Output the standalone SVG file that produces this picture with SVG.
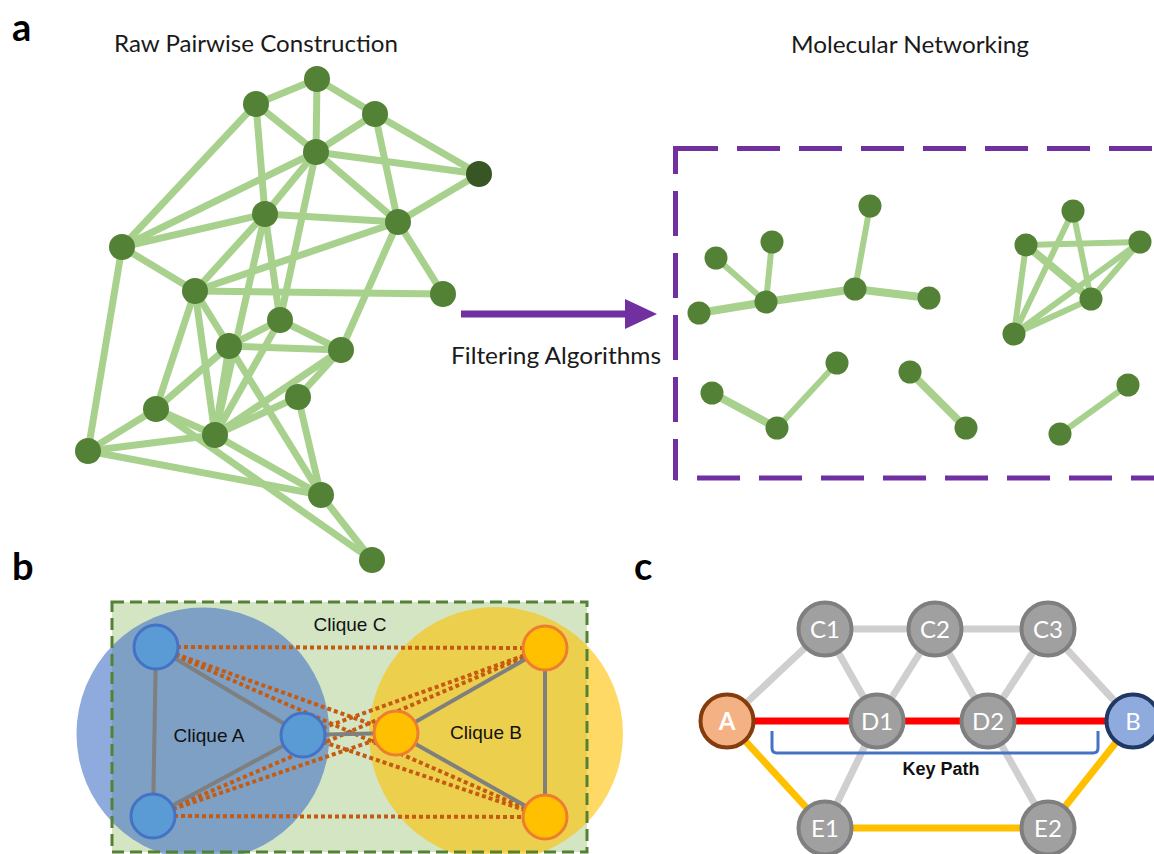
<svg xmlns="http://www.w3.org/2000/svg" width="1154" height="854" viewBox="0 0 1154 854">
  <style>
    .ttl { font-family: Lato, "Liberation Sans", sans-serif; font-size: 24px; fill: #1a1a1a; }
    .lbl { font-family: Lato, "Liberation Sans", sans-serif; font-weight: bold; font-size: 38px; fill: #000; }
    .ea { stroke: #a9d18e; stroke-width: 7; stroke-linecap: round; }
    .eb { stroke: #a9d18e; stroke-width: 6; stroke-linecap: round; }
    .ebt { stroke: #a9d18e; stroke-width: 8; stroke-linecap: round; }
    .na { fill: #538135; }
    .nd { fill: #375623; }
    .box { stroke: #7030a0; stroke-width: 5; fill: none; }
    .g2 { stroke: #7f7f7f; stroke-width: 4; }
    .dot { stroke: #c55a11; stroke-width: 4; stroke-dasharray: 4 3; fill: none; }
    .ba { fill: #5b9bd5; stroke: #4472c4; stroke-width: 3; }
    .bb { fill: #ffc000; stroke: #ed7d31; stroke-width: 3; }
    .cq { font-family: "Liberation Sans", Arial, sans-serif; font-size: 19px; fill: #111; text-anchor: middle; }
    .lg { stroke: #d0cece; stroke-width: 7; }
    .red { stroke: #ff0000; stroke-width: 7; }
    .yel { stroke: #ffc000; stroke-width: 7; }
    .gn { fill: #a0a0a0; stroke: #7f7f7f; stroke-width: 4; }
    .nt { font-family: Lato, "Liberation Sans", sans-serif; font-size: 24px; fill: #fff; text-anchor: middle; }
  </style>
  <rect width="1154" height="854" fill="#fff"/>

  <!-- panel labels and titles -->
  <text class="lbl" x="12" y="41">a</text>
  <text class="lbl" x="12" y="580">b</text>
  <text class="lbl" x="634" y="580">c</text>
  <text class="ttl" x="114" y="52" textLength="284" lengthAdjust="spacingAndGlyphs">Raw Pairwise Construction</text>
  <text class="ttl" x="791" y="53" textLength="238" lengthAdjust="spacingAndGlyphs">Molecular Networking</text>
  <text class="ttl" x="451" y="364" textLength="210" lengthAdjust="spacingAndGlyphs">Filtering Algorithms</text>

  <!-- panel a: raw pairwise graph edges -->
  <g id="edges-raw">
    <line class="ea" x1="317" y1="79" x2="256" y2="104"/>
    <line class="ea" x1="317" y1="79" x2="375" y2="114"/>
    <line class="ea" x1="317" y1="79" x2="316" y2="152"/>
    <line class="ea" x1="256" y1="104" x2="316" y2="152"/>
    <line class="ea" x1="256" y1="104" x2="265" y2="214"/>
    <line class="ea" x1="256" y1="104" x2="122" y2="247"/>
    <line class="ea" x1="375" y1="114" x2="316" y2="152"/>
    <line class="ea" x1="375" y1="114" x2="479" y2="174"/>
    <line class="ea" x1="375" y1="114" x2="398" y2="222"/>
    <line class="ea" x1="316" y1="152" x2="479" y2="174"/>
    <line class="ea" x1="316" y1="152" x2="265" y2="214"/>
    <line class="ea" x1="316" y1="152" x2="398" y2="222"/>
    <line class="ea" x1="316" y1="152" x2="122" y2="247"/>
    <line class="ea" x1="316" y1="152" x2="280" y2="320"/>
    <line class="ea" x1="479" y1="174" x2="398" y2="222"/>
    <line class="ea" x1="265" y1="214" x2="398" y2="222"/>
    <line class="ea" x1="265" y1="214" x2="122" y2="247"/>
    <line class="ea" x1="265" y1="214" x2="195" y2="291"/>
    <line class="ea" x1="265" y1="214" x2="280" y2="320"/>
    <line class="ea" x1="265" y1="214" x2="215" y2="435"/>
    <line class="ea" x1="398" y1="222" x2="195" y2="291"/>
    <line class="ea" x1="398" y1="222" x2="443" y2="294"/>
    <line class="ea" x1="398" y1="222" x2="341" y2="350"/>
    <line class="ea" x1="122" y1="247" x2="195" y2="291"/>
    <line class="ea" x1="122" y1="247" x2="88" y2="451"/>
    <line class="ea" x1="195" y1="291" x2="443" y2="294"/>
    <line class="ea" x1="195" y1="291" x2="229" y2="346"/>
    <line class="ea" x1="195" y1="291" x2="156" y2="409"/>
    <line class="ea" x1="195" y1="291" x2="215" y2="435"/>
    <line class="ea" x1="280" y1="320" x2="229" y2="346"/>
    <line class="ea" x1="280" y1="320" x2="341" y2="350"/>
    <line class="ea" x1="280" y1="320" x2="215" y2="435"/>
    <line class="ea" x1="229" y1="346" x2="341" y2="350"/>
    <line class="ea" x1="229" y1="346" x2="156" y2="409"/>
    <line class="ea" x1="229" y1="346" x2="215" y2="435"/>
    <line class="ea" x1="229" y1="346" x2="321" y2="495"/>
    <line class="ea" x1="341" y1="350" x2="298" y2="397"/>
    <line class="ea" x1="341" y1="350" x2="215" y2="435"/>
    <line class="ea" x1="298" y1="397" x2="215" y2="435"/>
    <line class="ea" x1="298" y1="397" x2="321" y2="495"/>
    <line class="ea" x1="156" y1="409" x2="215" y2="435"/>
    <line class="ea" x1="156" y1="409" x2="88" y2="451"/>
    <line class="ea" x1="156" y1="409" x2="372" y2="560"/>
    <line class="ea" x1="215" y1="435" x2="88" y2="451"/>
    <line class="ea" x1="215" y1="435" x2="321" y2="495"/>
    <line class="ea" x1="88" y1="451" x2="321" y2="495"/>
    <line class="ea" x1="321" y1="495" x2="372" y2="560"/>
  </g>

  <!-- panel a: raw pairwise graph nodes -->
  <g id="raw-1"><circle class="na" cx="317" cy="79" r="13"/></g>
  <g id="raw-2"><circle class="na" cx="256" cy="104" r="13"/></g>
  <g id="raw-3"><circle class="na" cx="375" cy="114" r="13"/></g>
  <g id="raw-4"><circle class="na" cx="316" cy="152" r="13"/></g>
  <g id="raw-5"><circle class="nd" cx="479" cy="174" r="13"/></g>
  <g id="raw-6"><circle class="na" cx="265" cy="214" r="13"/></g>
  <g id="raw-7"><circle class="na" cx="398" cy="222" r="13"/></g>
  <g id="raw-8"><circle class="na" cx="122" cy="247" r="13"/></g>
  <g id="raw-9"><circle class="na" cx="195" cy="291" r="13"/></g>
  <g id="raw-10"><circle class="na" cx="443" cy="294" r="13"/></g>
  <g id="raw-11"><circle class="na" cx="280" cy="320" r="13"/></g>
  <g id="raw-12"><circle class="na" cx="229" cy="346" r="13"/></g>
  <g id="raw-13"><circle class="na" cx="341" cy="350" r="13"/></g>
  <g id="raw-14"><circle class="na" cx="298" cy="397" r="13"/></g>
  <g id="raw-15"><circle class="na" cx="156" cy="409" r="13"/></g>
  <g id="raw-16"><circle class="na" cx="215" cy="435" r="13"/></g>
  <g id="raw-17"><circle class="na" cx="88" cy="451" r="13"/></g>
  <g id="raw-18"><circle class="na" cx="321" cy="495" r="13"/></g>
  <g id="raw-19"><circle class="na" cx="372" cy="560" r="13"/></g>

  <!-- filtering arrow -->
  <g id="arrow-filter">
    <line x1="461" y1="314" x2="626" y2="314" stroke="#7030a0" stroke-width="7"/>
    <polygon points="625,299 657,314 625,329" fill="#7030a0"/>
  </g>

  <!-- panel a: molecular network frame -->
  <g id="network-frame">
    <line class="box" x1="675" y1="148.5" x2="1160" y2="148.5" stroke-dasharray="43 19"/>
    <line class="box" x1="675.5" y1="146" x2="675.5" y2="480" stroke-dasharray="45 17" stroke-dashoffset="17"/>
    <line class="box" x1="675" y1="478" x2="1160" y2="478" stroke-dasharray="43 19" stroke-dashoffset="40"/>
  </g>

  <!-- panel a: filtered network edges -->
  <g id="edges-filtered">
    <line class="ebt" x1="699" y1="313" x2="766" y2="302"/>
    <line class="eb" x1="766" y1="302" x2="772" y2="242"/>
    <line class="eb" x1="766" y1="302" x2="716" y2="258"/>
    <line class="ebt" x1="766" y1="302" x2="855" y2="289"/>
    <line class="eb" x1="855" y1="289" x2="870" y2="206"/>
    <line class="ebt" x1="855" y1="289" x2="929" y2="298"/>
    <line class="eb" x1="1073" y1="211" x2="1091" y2="299"/>
    <line class="eb" x1="1073" y1="211" x2="1014" y2="334"/>
    <line class="eb" x1="1026" y1="245" x2="1140" y2="242"/>
    <line class="ebt" x1="1026" y1="245" x2="1091" y2="299"/>
    <line class="eb" x1="1026" y1="245" x2="1014" y2="334"/>
    <line class="eb" x1="1140" y1="242" x2="1091" y2="299"/>
    <line class="eb" x1="1140" y1="242" x2="1014" y2="334"/>
    <line class="eb" x1="1091" y1="299" x2="1014" y2="334"/>
    <line class="ebt" x1="712" y1="393" x2="777" y2="428"/>
    <line class="eb" x1="777" y1="428" x2="837" y2="363"/>
    <line class="ebt" x1="910" y1="372" x2="966" y2="428"/>
    <line class="eb" x1="1060" y1="434" x2="1128" y2="385"/>
  </g>

  <!-- panel a: filtered network nodes -->
  <g id="tree-1"><circle class="na" cx="699" cy="313" r="11.5"/></g>
  <g id="tree-2"><circle class="na" cx="766" cy="302" r="11.5"/></g>
  <g id="tree-3"><circle class="na" cx="772" cy="242" r="11.5"/></g>
  <g id="tree-4"><circle class="na" cx="716" cy="258" r="11.5"/></g>
  <g id="tree-5"><circle class="na" cx="855" cy="289" r="11.5"/></g>
  <g id="tree-6"><circle class="na" cx="870" cy="206" r="11.5"/></g>
  <g id="tree-7"><circle class="na" cx="929" cy="298" r="11.5"/></g>
  <g id="clq-1"><circle class="na" cx="1073" cy="211" r="11.5"/></g>
  <g id="clq-2"><circle class="na" cx="1026" cy="245" r="11.5"/></g>
  <g id="clq-3"><circle class="na" cx="1140" cy="242" r="11.5"/></g>
  <g id="clq-4"><circle class="na" cx="1091" cy="299" r="11.5"/></g>
  <g id="clq-5"><circle class="na" cx="1014" cy="334" r="11.5"/></g>
  <g id="chain-1"><circle class="na" cx="712" cy="393" r="11.5"/></g>
  <g id="chain-2"><circle class="na" cx="777" cy="428" r="11.5"/></g>
  <g id="chain-3"><circle class="na" cx="837" cy="363" r="11.5"/></g>
  <g id="pair-1a"><circle class="na" cx="910" cy="372" r="11.5"/></g>
  <g id="pair-1b"><circle class="na" cx="966" cy="428" r="11.5"/></g>
  <g id="pair-2a"><circle class="na" cx="1060" cy="434" r="11.5"/></g>
  <g id="pair-2b"><circle class="na" cx="1128" cy="385" r="11.5"/></g>

  <!-- panel b: cliques -->
  <g id="clique-c-area">
    <rect x="112" y="602" width="475" height="250" fill="#d3e5c3"/>
  </g>
  <g id="clique-a-area"><circle cx="203" cy="734" r="126.5" fill="#4472c4" fill-opacity="0.6"/></g>
  <g id="clique-b-area"><circle cx="496" cy="734" r="127" fill="#ffc000" fill-opacity="0.6"/></g>
  <g id="clique-c-border">
    <rect x="112" y="602" width="475" height="250" fill="none" stroke="#548235" stroke-width="3" stroke-dasharray="12 6"/>
  </g>

  <g id="edges-cliques">
    <line class="dot" x1="156" y1="647" x2="545" y2="648"/>
    <line class="dot" x1="153" y1="816" x2="545" y2="817"/>
    <line class="dot" x1="156" y1="647" x2="396" y2="733"/>
    <line class="dot" x1="156" y1="647" x2="545" y2="817"/>
    <line class="dot" x1="153" y1="816" x2="396" y2="733"/>
    <line class="dot" x1="153" y1="816" x2="545" y2="648"/>
    <line class="dot" x1="303" y1="735" x2="545" y2="648"/>
    <line class="dot" x1="303" y1="735" x2="545" y2="817"/>
    <line class="g2" x1="156" y1="647" x2="153" y2="816"/>
    <line class="g2" x1="156" y1="647" x2="303" y2="735"/>
    <line class="g2" x1="153" y1="816" x2="303" y2="735"/>
    <line class="g2" x1="303" y1="735" x2="396" y2="733"/>
    <line class="g2" x1="396" y1="733" x2="545" y2="648"/>
    <line class="g2" x1="396" y1="733" x2="545" y2="817"/>
    <line class="g2" x1="545" y1="648" x2="545" y2="817"/>
  </g>

  <g id="a-1"><circle class="ba" cx="156" cy="647" r="22"/></g>
  <g id="a-2"><circle class="ba" cx="153" cy="816" r="22"/></g>
  <g id="a-3"><circle class="ba" cx="303" cy="735" r="22"/></g>
  <g id="b-1"><circle class="bb" cx="545" cy="648" r="22"/></g>
  <g id="b-2"><circle class="bb" cx="545" cy="817" r="22"/></g>
  <g id="b-3"><circle class="bb" cx="396" cy="733" r="22"/></g>

  <text class="cq" x="350" y="631">Clique C</text>
  <text class="cq" x="209" y="742">Clique A</text>
  <text class="cq" x="486" y="739">Clique B</text>

  <!-- panel c: path graph -->
  <g id="edges-path">
    <line class="lg" x1="727" y1="721" x2="825" y2="629"/>
    <line class="lg" x1="825" y1="629" x2="935" y2="629"/>
    <line class="lg" x1="935" y1="629" x2="1048" y2="629"/>
    <line class="lg" x1="1048" y1="629" x2="1133" y2="721"/>
    <line class="lg" x1="825" y1="629" x2="877" y2="721"/>
    <line class="lg" x1="935" y1="629" x2="877" y2="721"/>
    <line class="lg" x1="935" y1="629" x2="988" y2="721"/>
    <line class="lg" x1="1048" y1="629" x2="988" y2="721"/>
    <line class="lg" x1="877" y1="721" x2="825" y2="828"/>
    <line class="lg" x1="988" y1="721" x2="1048" y2="828"/>
    <line class="red" x1="727" y1="721" x2="1133" y2="721"/>
    <line class="yel" x1="727" y1="721" x2="825" y2="828"/>
    <line class="yel" x1="825" y1="828" x2="1048" y2="828"/>
    <line class="yel" x1="1048" y1="828" x2="1133" y2="721"/>
    <path d="M772,731 V748 Q772,753 777,753 H1093 Q1098,753 1098,748 V731" fill="none" stroke="#4472c4" stroke-width="3"/>
  </g>

  <g id="node-A"><circle cx="727" cy="721" r="26.5" fill="#f4b183" stroke="#843c0c" stroke-width="4"/><text class="nt" x="727" y="730" font-weight="bold">A</text></g>
  <g id="node-B"><circle cx="1133" cy="721" r="26.5" fill="#8faadc" stroke="#1f3864" stroke-width="4"/><text class="nt" x="1133" y="730">B</text></g>
  <g id="node-C1"><circle class="gn" cx="825" cy="629" r="26.5"/><text class="nt" x="825" y="638">C1</text></g>
  <g id="node-C2"><circle class="gn" cx="935" cy="629" r="26.5"/><text class="nt" x="935" y="638">C2</text></g>
  <g id="node-C3"><circle class="gn" cx="1048" cy="629" r="26.5"/><text class="nt" x="1048" y="638">C3</text></g>
  <g id="node-D1"><circle class="gn" cx="877" cy="721" r="26.5"/><text class="nt" x="877" y="730">D1</text></g>
  <g id="node-D2"><circle class="gn" cx="988" cy="721" r="26.5"/><text class="nt" x="988" y="730">D2</text></g>
  <g id="node-E1"><circle class="gn" cx="825" cy="828" r="26.5"/><text class="nt" x="825" y="837">E1</text></g>
  <g id="node-E2"><circle class="gn" cx="1048" cy="828" r="26.5"/><text class="nt" x="1048" y="837">E2</text></g>

  <text x="941" y="775" font-family="Liberation Sans, Arial, sans-serif" font-weight="bold" font-size="18" fill="#111" text-anchor="middle">Key Path</text>
</svg>
